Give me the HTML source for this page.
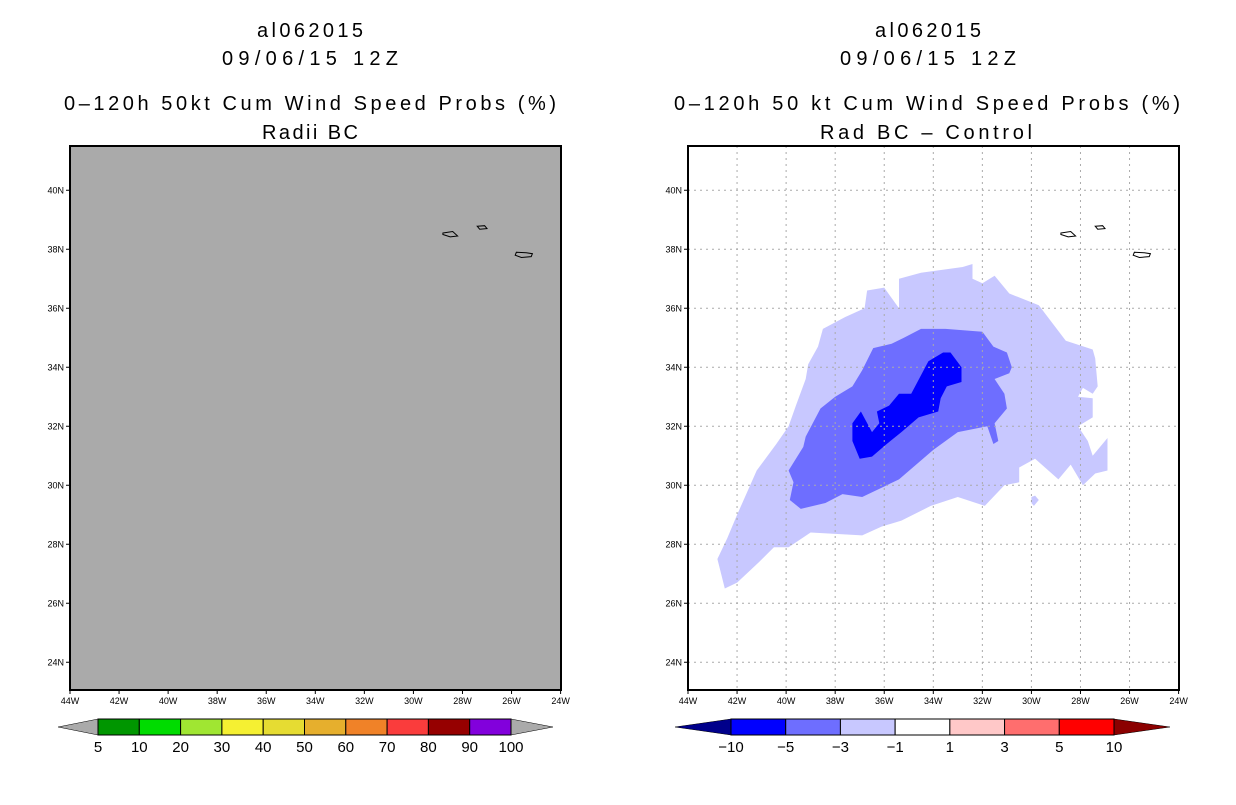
<!DOCTYPE html>
<html><head><meta charset="utf-8"><style>
body{margin:0;background:#fff;width:1236px;height:800px;overflow:hidden}
svg text{font-family:"Liberation Sans",sans-serif}
</style></head><body>
<svg id="s" width="1236" height="800" xmlns="http://www.w3.org/2000/svg">
<g font-size="20" text-anchor="middle" fill="#000">
<text x="310" y="37" textLength="106" lengthAdjust="spacing">al062015</text>
<text x="310" y="65" textLength="176" lengthAdjust="spacing">09/06/15 12Z</text>
<text x="310" y="110" textLength="492" lengthAdjust="spacing">0–120h 50kt Cum Wind Speed Probs (%)</text>
<text x="310" y="139" textLength="96" lengthAdjust="spacing">Radii BC</text>
</g>
<g font-size="20" text-anchor="middle" fill="#000">
<text x="928" y="37" textLength="106" lengthAdjust="spacing">al062015</text>
<text x="928" y="65" textLength="176" lengthAdjust="spacing">09/06/15 12Z</text>
<text x="927" y="110" textLength="506" lengthAdjust="spacing">0–120h 50 kt Cum Wind Speed Probs (%)</text>
<text x="926" y="139" textLength="212" lengthAdjust="spacing">Rad BC – Control</text>
</g>
<g id="L"></g>
<g id="R"></g>
<g id="CB"></g>
</svg>
<script>
const lonTicks=[-44,-42,-40,-38,-36,-34,-32,-30,-28,-26,-24];
const latTicks=[24,26,28,30,32,34,36,38,40];
const lightRegion=[[-42.5,26.5],[-42.8,27.5],[-42.4,28.2],[-42.0,29.0],[-41.2,30.5],[-40.4,31.4],[-39.9,32.0],[-39.6,32.7],[-39.2,33.6],[-39.1,34.1],[-38.7,34.7],[-38.5,35.3],[-37.6,35.7],[-36.8,36.0],[-36.7,36.6],[-36.0,36.7],[-35.4,36.0],[-35.4,37.0],[-34.5,37.2],[-32.8,37.4],[-32.4,37.5],[-32.4,37.0],[-32.0,36.85],[-31.5,37.1],[-30.9,36.5],[-29.7,36.1],[-28.6,34.9],[-27.5,34.6],[-27.4,34.3],[-27.3,33.35],[-27.5,33.1],[-27.9,33.3],[-28.1,33.0],[-27.5,32.95],[-27.5,32.3],[-28.1,32.0],[-27.7,31.5],[-27.5,31.0],[-26.9,31.6],[-26.9,30.5],[-27.4,30.4],[-27.9,30.0],[-28.4,30.7],[-28.9,30.2],[-29.85,30.9],[-30.5,30.6],[-30.5,30.1],[-31.1,30.0],[-31.9,29.3],[-33.0,29.6],[-34.1,29.3],[-35.3,28.8],[-36.1,28.6],[-36.9,28.3],[-39.0,28.4],[-39.9,27.9],[-40.5,27.9],[-41.1,27.4],[-42.0,26.7]];
const lightBlob=[[-30.0,29.6],[-29.85,29.65],[-29.7,29.5],[-29.9,29.3],[-30.0,29.4]];
const mediumRegion=[[-39.9,30.5],[-39.3,31.3],[-39.2,31.65],[-38.6,32.6],[-38.0,33.0],[-37.3,33.35],[-36.9,33.9],[-36.45,34.65],[-35.7,34.8],[-35.2,35.0],[-34.5,35.3],[-33.5,35.3],[-32.0,35.2],[-31.55,34.7],[-31.0,34.5],[-30.8,34.0],[-30.9,33.8],[-31.5,33.6],[-31.1,33.1],[-31.0,32.6],[-31.5,32.1],[-31.35,31.5],[-31.55,31.4],[-31.8,32.0],[-33.0,31.8],[-34.0,31.2],[-35.4,30.2],[-36.9,29.6],[-37.7,29.7],[-38.4,29.4],[-39.4,29.2],[-39.85,29.5],[-39.7,30.1]];
const darkRegion=[[-37.3,32.1],[-36.95,32.5],[-36.5,31.8],[-36.2,32.1],[-36.3,32.5],[-35.8,32.7],[-35.4,33.1],[-34.9,33.1],[-34.2,34.2],[-33.6,34.5],[-33.3,34.5],[-32.85,34.0],[-32.85,33.5],[-33.45,33.35],[-33.7,32.95],[-33.8,32.5],[-34.6,32.3],[-35.3,31.8],[-35.9,31.4],[-36.5,30.97],[-37.0,30.9],[-37.3,31.5]];
const islands=[[[-28.8,38.55],[-28.4,38.6],[-28.2,38.45],[-28.5,38.42],[-28.8,38.5]],[[-27.4,38.78],[-27.1,38.8],[-27.0,38.7],[-27.3,38.68]],[[-25.8,37.9],[-25.4,37.88],[-25.15,37.85],[-25.2,37.75],[-25.6,37.72],[-25.85,37.8]]];
const leftLevels=["5","10","20","30","40","50","60","70","80","90","100"];
const leftColors=["#009600","#00dc00","#a0e632","#f5f032","#e6dc32","#e6af2d","#f08228","#fa3c3c","#960000","#8200dc"];
const rightLevels=["−10","−5","−3","−1","1","3","5","10"];
const rightColors=["#0000ff","#6e6eff","#c8c8ff","#ffffff","#ffc8c8","#ff6e6e","#ff0000"];
const NS="http://www.w3.org/2000/svg";
function mk(t,a,p){const e=document.createElementNS(NS,t);for(const k in a)e.setAttribute(k,a[k]);p.appendChild(e);return e;}
function proj(x0){return{x:lon=>x0+(lon+44)*24.53,y:lat=>146+(41.5-lat)*29.5};}
function pts(P,arr){return arr.map(p=>P.x(p[0]).toFixed(1)+','+P.y(p[1]).toFixed(1)).join(' ');}
function panel(g,x0,grey){
  const P=proj(x0),W=491,H=544;
  const bg=mk('rect',{x:x0,y:146,width:W,height:H,fill:grey?'#aaaaaa':'#fff'},g);
  
  
  if(!grey){
    [[lightRegion,'#c8c8ff','light-contour'],[lightBlob,'#c8c8ff','light-contour-blob'],[mediumRegion,'#6e6eff','medium-contour'],[darkRegion,'#0000ff','dark-contour']].forEach(r=>{
      const e=mk('polygon',{points:pts(P,r[0]),fill:r[1]},g);
      
      
    });
    lonTicks.slice(1,-1).forEach(l=>{const e=mk('line',{x1:P.x(l),x2:P.x(l),y1:146,y2:690,stroke:'#aaa','stroke-dasharray':'2,4'},g);
      
      });
    latTicks.forEach(l=>{const e=mk('line',{x1:x0,x2:x0+W,y1:P.y(l),y2:P.y(l),stroke:'#aaa','stroke-dasharray':'2,4'},g);
      
      });
  }
  islands.forEach(i=>{const e=mk('polygon',{points:pts(P,i),fill:'none',stroke:'#000','stroke-width':1},g);
    
    });
  const f=mk('rect',{x:x0,y:146,width:W,height:H,fill:'none',stroke:'#000','stroke-width':2},g);
  
  
  lonTicks.forEach(l=>{
    mk('line',{x1:P.x(l),x2:P.x(l),y1:690,y2:694,stroke:'#000'},g);
    const t=mk('text',{x:P.x(l),y:704,'font-size':9,'text-anchor':'middle'},g);
    t.textContent=Math.abs(l)+'W';
    
    
  });
  latTicks.forEach(l=>{
    mk('line',{x1:x0-4,x2:x0,y1:P.y(l),y2:P.y(l),stroke:'#000'},g);
    const t=mk('text',{x:x0-6,y:P.y(l)+3,'font-size':9,'text-anchor':'end'},g);
    t.textContent=l+'N';
    
    
  });
}
panel(document.getElementById('L'),70,true);
panel(document.getElementById('R'),688,false);
function cbar(g,x0,x1,xl,xr,levels,colors,lc,rc,name){
  const n=colors.length,w=(x1-x0)/n,y0=719,h=16;
  const a=mk('polygon',{points:`${xl},${y0+h/2} ${x0},${y0} ${x0},${y0+h}`,fill:lc,stroke:'#000','stroke-width':0.5},g);
  
  
  const b=mk('polygon',{points:`${xr},${y0+h/2} ${x1},${y0} ${x1},${y0+h}`,fill:rc,stroke:'#000','stroke-width':0.5},g);
  
  
  colors.forEach((c,i)=>{const r=mk('rect',{x:x0+i*w,y:y0,width:w,height:h,fill:c,stroke:'#000','stroke-width':1},g);
    
    });
  levels.forEach((l,i)=>{const t=mk('text',{x:x0+i*w,y:752,'font-size':15,'text-anchor':'middle'},g);
    t.textContent=l;
    
    });
}
const CB=document.getElementById('CB');
cbar(CB,98,511,58,553,leftLevels,leftColors,'#aaaaaa','#aaaaaa','left-colorbar');
cbar(CB,731,1114,675,1170,rightLevels.slice(0),rightColors,'#00008b','#8b0000','right-colorbar');
</script>
</body></html>
